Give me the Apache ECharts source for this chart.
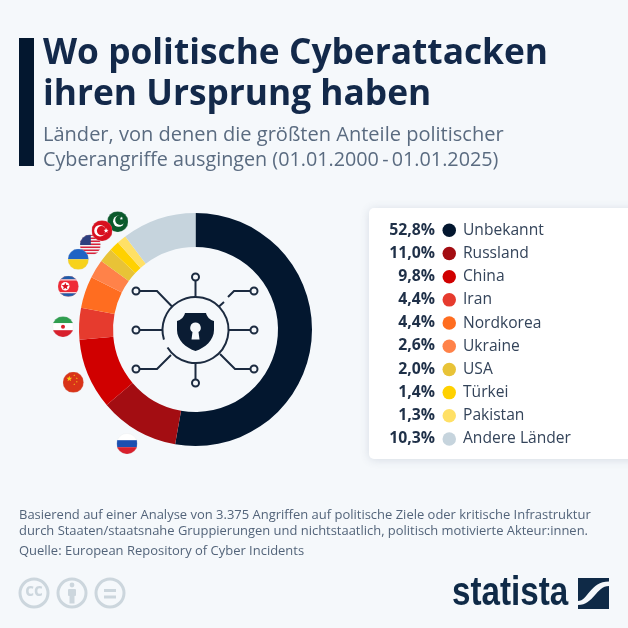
<!DOCTYPE html>
<html><head><meta charset="utf-8">
<script src="https://cdn.jsdelivr.net/npm/echarts@6/dist/echarts.min.js"></script>
<style>html,body{margin:0;padding:0;background:#f5f8fb}#c{width:628px;height:628px}</style>
</head><body><div id="c"></div>
<script>
const categories = ['Unbekannt','Russland','China','Iran','Nordkorea','Ukraine','USA','Türkei','Pakistan','Andere Länder'];
const shares = [52.8,11.0,9.8,4.4,4.4,2.6,2.0,1.4,1.3,10.3];
const colors = ['#03172f','#a30d12','#d00000','#e63b2e','#ff6d20','#ff8249','#e8c337','#ffd100','#ffe066','#c6d4dd'];
const titleLines = ['Wo politische Cyberattacken','ihren Ursprung haben'];
const subtitleLines = ['Länder, von denen die größten Anteile politischer','Cyberangriffe ausgingen (01.01.2000\u2009-\u200901.01.2025)'];
const noteLines = ['Basierend auf einer Analyse von 3.375 Angriffen auf politische Ziele oder kritische Infrastruktur','durch Staaten/staatsnahe Gruppierungen und nichtstaatlich, politisch motivierte Akteur:innen.','Quelle: European Repository of Cyber Incidents'];

const FONT = '"Open Sans", sans-serif';
const NAVY = '#13294a';
const ICON = '#1c2b40';
const BG = '#f5f8fb';
const svgUri = (w, h, vb, b) => 'data:image/svg+xml;charset=utf-8,' + encodeURIComponent('<svg xmlns="http://www.w3.org/2000/svg" viewBox="' + vb + '" width="' + w + '" height="' + h + '">' + b + '</svg>');
const svg = b => svgUri(84, 84, '0 0 21 21', '<defs><clipPath id="k"><circle cx="10.5" cy="10.5" r="10.5"/></clipPath></defs><g clip-path="url(#k)">' + b + '</g><circle cx="10.5" cy="10.5" r="10.3" fill="none" stroke="#d5d9dd" stroke-opacity="0.55" stroke-width="0.4"/>');
const star = (cx, cy, r, fill) => { let p = []; for (let i = 0; i < 10; i++) { const a = -Math.PI / 2 + i * Math.PI / 5, q = i % 2 ? r * 0.42 : r; p.push((cx + q * Math.cos(a)).toFixed(2) + ',' + (cy + q * Math.sin(a)).toFixed(2)); } return '<polygon fill="' + fill + '" points="' + p.join(' ') + '"/>'; };
let usStripes = ''; for (let i = 0; i < 7; i++) usStripes += '<rect x="0" y="' + (i * 3) + '" width="21" height="1.5" fill="#d8233c"/>';
const flags = [
  { x: 117.7, y: 221.7, b: '<rect width="21" height="21" fill="#0b5a2c"/><circle cx="11.5" cy="10" r="5.6" fill="#fff"/><circle cx="13" cy="8.8" r="5" fill="#0b5a2c"/>' + star(14.2, 7.2, 1.8, '#fff') },
  { x: 90.3, y: 245, b: '<rect width="21" height="21" fill="#f0f0f0"/>' + usStripes + '<rect width="11" height="10.5" fill="#2d3f7e"/>' },
  { x: 102, y: 230.7, b: '<rect width="21" height="21" fill="#d8101f"/><circle cx="8.5" cy="10.5" r="5.8" fill="#fff"/><circle cx="10" cy="10.5" r="4.6" fill="#d8101f"/>' + star(14.6, 10.5, 2.6, '#fff') },
  { x: 78.3, y: 259.3, b: '<rect width="21" height="10.5" fill="#1f63c4"/><rect y="10.5" width="21" height="10.5" fill="#f7d21b"/>' },
  { x: 68.3, y: 286.3, b: '<rect width="21" height="21" fill="#ef2b36"/><rect width="21" height="3.6" fill="#1f5ba8"/><rect y="17.4" width="21" height="3.6" fill="#1f5ba8"/><rect y="3.6" width="21" height="1" fill="#fff"/><rect y="16.4" width="21" height="1" fill="#fff"/><circle cx="7.5" cy="10.5" r="4.2" fill="#fff"/>' + star(7.5, 10.6, 3.8, '#d8101f') },
  { x: 63, y: 326.7, b: '<rect width="21" height="7" fill="#2f9e4f"/><rect y="7" width="21" height="7" fill="#fff"/><rect y="14" width="21" height="7" fill="#d8202c"/><circle cx="10.5" cy="10.5" r="2" fill="#d8202c"/>' },
  { x: 73.3, y: 382.3, b: '<rect width="21" height="21" fill="#d93318"/>' + star(6.5, 7, 3, '#f5c518') + star(11.5, 3.5, 1, '#f5c518') + star(14, 6.5, 1, '#f5c518') + star(14, 10, 1, '#f5c518') + star(11.5, 12.5, 1, '#f5c518') },
  { x: 127, y: 443.7, b: '<rect width="21" height="7" fill="#fff"/><rect y="7" width="21" height="7" fill="#1c4fb0"/><rect y="14" width="21" height="7" fill="#d8202c"/>' }
];

const g = [];
const text = (x, y, t, font, fill, align, extra) => g.push(Object.assign({ type: 'text', x, y, silent: true, style: { text: t, font, fill, align: align || 'left', verticalAlign: 'middle' } }, extra || {}));

g.push({ type: 'rect', silent: true, shape: { x: 19, y: 38, width: 15, height: 128 }, style: { fill: '#03172f' } });
titleLines.forEach((t, i) => text(43, 54 + i * 40.5, t, '700 35.3px ' + FONT, NAVY));
text(43, 135, subtitleLines[0], '400 20.05px ' + FONT, '#5a6b80');
text(43, 160.5, subtitleLines[1], '400 19.75px ' + FONT, '#5a6b80');

g.push({ type: 'rect', silent: true, shape: { x: 369, y: 208, width: 280, height: 251, r: 5 }, style: { fill: '#fff', shadowBlur: 10, shadowColor: 'rgba(60,80,110,0.16)', shadowOffsetY: 1 } });
const rowTop = 229.3, rowStep = (438 - 229.3) / 9;
shares.forEach((v, i) => text(435, rowTop + 0.7 + i * rowStep, v.toFixed(1).replace('.', ',') + '%', '700 15.8px ' + FONT, '#1f3048', 'right'));

// central icon
const line = { stroke: ICON, lineWidth: 2, fill: 'none' };
const nodes = [[195.5,277],[254,291],[136,291],[136,330],[254,330],[136,369],[254,369],[195.5,383]];
const wires = [
  [[195.5,281],[195.5,297]], [[250.5,291],[234,291],[228,297]], [[224,302],[219,306.5]],
  [[139.5,291],[157,291],[172,306.5]], [[139.5,330],[162,330]], [[250.5,330],[229,330]],
  [[139.5,369],[157,369],[171,355]], [[250.5,369],[235,369],[220,354]], [[195.5,379.5],[195.5,363]]
];
g.push({ type: 'arc', silent: true, shape: { cx: 195.5, cy: 330, r: 33, startAngle: 148 * Math.PI / 180, endAngle: 163 * Math.PI / 180, clockwise: false }, style: line });
wires.forEach(p => g.push({ type: 'polyline', silent: true, shape: { points: p }, style: line }));
nodes.forEach(n => g.push({ type: 'circle', silent: true, shape: { cx: n[0], cy: n[1], r: 3.5 }, style: line }));
g.push({ type: 'image', silent: true, style: { x: 177, y: 313, width: 37, height: 38, image: svgUri(148, 152, '0 0 37 38', '<path fill="#0a1c33" d="M8 0 L29 0 C30 4 33 7 37 8 L37 17 C37 27 28 35 18.5 38 C9 35 0 27 0 17 L0 8 C4 7 7 4 8 0 Z"/><path fill="' + BG + '" d="M18.5 9.5 a5.2 5.2 0 0 1 3 9.5 L22.5 26.5 L14.5 26.5 L15.5 19 a5.2 5.2 0 0 1 3 -9.5 Z"/>') } });

flags.forEach(f => g.push({ type: 'image', silent: true, z: 5, style: { image: svg(f.b), x: f.x - 10.5, y: f.y - 10.5, width: 21, height: 21 } }));

text(19, 515.5, noteLines[0], '400 12.97px ' + FONT, '#53647a');
text(19, 531.5, noteLines[1], '400 12.95px ' + FONT, '#53647a');
text(19, 551, noteLines[2], '400 12.97px ' + FONT, '#53647a');

// licence marks
[34, 72, 110].forEach(x => g.push({ type: 'circle', silent: true, shape: { cx: x, cy: 593, r: 14 }, style: { fill: 'none', stroke: '#ccd6dd', lineWidth: 3 } }));
text(34, 591.5, 'cc', '700 17px ' + FONT, '#ccd6dd', 'center');
g.push({ type: 'circle', silent: true, shape: { cx: 72, cy: 585, r: 2.4 }, style: { fill: '#ccd6dd' } });
g.push({ type: 'rect', silent: true, shape: { x: 68, y: 589, width: 8, height: 7, r: 1 }, style: { fill: '#ccd6dd' } });
g.push({ type: 'rect', silent: true, shape: { x: 69.5, y: 595, width: 5, height: 8.5 }, style: { fill: '#ccd6dd' } });
g.push({ type: 'rect', silent: true, shape: { x: 104, y: 589, width: 12, height: 3 }, style: { fill: '#ccd6dd' } });
g.push({ type: 'rect', silent: true, shape: { x: 104, y: 595.5, width: 12, height: 3 }, style: { fill: '#ccd6dd' } });

// brand
text(452, 594, 'statista', '700 41px "Liberation Sans", sans-serif', '#0f2a47', 'left', { scaleX: 0.81 });
g.push({ type: 'image', silent: true, style: { x: 578, y: 578, width: 31, height: 31, image: svgUri(124, 124, '0 0 31 31', '<rect width="31" height="31" fill="#0f2a47"/><path fill="' + BG + '" d="M0 23 C10 23 12 3.5 31 3.5 L31 8 C18 8 16 27 0 27 Z"/>') } });

const chart = echarts.init(document.getElementById('c'), null, { renderer: 'canvas', width: 628, height: 628 });
chart.setOption({
  animation: false,
  backgroundColor: BG,
  color: colors,
  legend: {
    orient: 'vertical', left: 442.5, top: rowTop - 7, icon: 'circle', itemWidth: 13.5, itemHeight: 13.5, itemGap: rowStep - 16,
    selectedMode: false, data: categories, padding: 0,
    textStyle: { fontFamily: 'Open Sans', fontSize: 15.6, color: '#34445a', padding: [0, 0, 0, 2] }
  },
  graphic: { elements: g },
  series: [{
    type: 'pie', silent: true, center: [195.5, 329.5], radius: [82.5, 116.5], startAngle: 90, clockwise: true,
    label: { show: false }, labelLine: { show: false }, itemStyle: { borderWidth: 0 },
    data: categories.map((name, i) => ({ name, value: shares[i] }))
  }]
});
</script></body></html>
